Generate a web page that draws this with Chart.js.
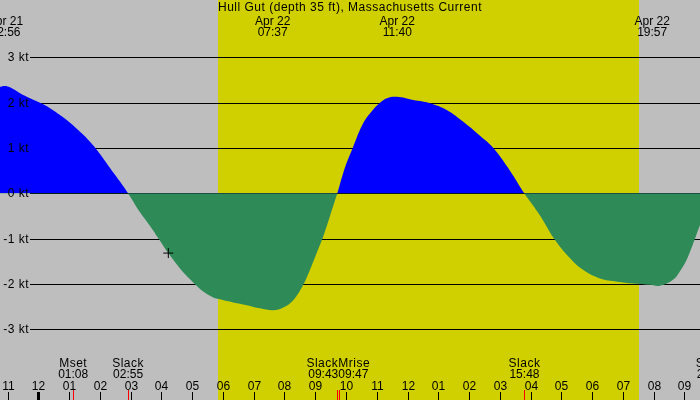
<!DOCTYPE html>
<html>
<head>
<meta charset="utf-8">
<script src="https://cdn.jsdelivr.net/npm/chart.js@4.4.1/dist/chart.umd.min.js"></script>
<style>
body{margin:0;background:#bebebe}
#wrap{width:700px;height:400px}
</style>
</head>
<body>
<div id="wrap"><canvas id="tideChart" width="700" height="400"></canvas></div>
<script>
var stationName = 'Hull Gut (depth 35 ft), Massachusetts Current';

// hours after Apr 22 00:00 and the current in knots
var hours = [-1.245, -1.082, -0.92, -0.595, -0.27, 0.055, 0.38, 0.705, 1.03, 1.355,
  1.68, 2.005, 2.33, 2.655, 2.915,
  3.305, 3.63, 3.9, 4.225, 4.605, 4.93, 5.362, 5.687, 5.905, 6.337,
  6.773, 7.205, 7.637, 7.962, 8.287, 8.612, 8.83, 9.048, 9.262, 9.48, 9.717,
  9.967, 10.218, 10.562, 10.887, 11.105, 11.333, 11.648, 12.187, 12.73, 13.273,
  13.812, 14.355, 14.787, 15.33, 15.795,
  16.305, 16.76, 17.183, 17.703, 18.255, 18.808, 19.328, 19.88, 20.205, 20.627,
  20.855, 21.082, 21.277, 21.505];
var knots = [2.35, 2.37, 2.34, 2.21, 2.1, 2.0, 1.88, 1.73, 1.56, 1.36,
  1.14, 0.87, 0.56, 0.26, 0,
  -0.42, -0.72, -0.99, -1.32, -1.66, -1.9, -2.17, -2.3, -2.34, -2.41,
  -2.47, -2.54, -2.58, -2.52, -2.36, -2.02, -1.69, -1.32, -0.95, -0.5, 0,
  0.57, 1.0, 1.55, 1.85, 2.0, 2.1, 2.13, 2.06, 1.99, 1.84,
  1.58, 1.27, 1.0, 0.5, 0,
  -0.49, -1.0, -1.36, -1.69, -1.88, -1.95, -1.99, -2.02, -2.04, -1.91,
  -1.72, -1.45, -1.12, -0.7];

var maxDays = ['Apr 21', 'Apr 22', 'Apr 22', 'Apr 22'];
var maxTimes = ['22:56', '07:37', '11:40', '19:57'];

var eventNames = ['Mset', 'Slack', 'Slack', 'Mrise', 'Slack', 'Slack'];
var eventTimes = ['01:08', '02:55', '09:43', '09:47', '15:48', '21:53'];

var hourTicks = [-1, 0, 1, 2, 3, 4, 5, 6, 7, 8, 9, 10, 11, 12, 13, 14, 15, 16, 17, 18, 19, 20, 21];
var hourLabels = ['11', '12', '01', '02', '03', '04', '05', '06', '07', '08', '09', '10',
  '11', '12', '01', '02', '03', '04', '05', '06', '07', '08', '09'];
var ktTicks = [3, 2, 1, 0, -1, -2, -3];

var daylight = [5.84, 19.52];   // sunrise, sunset
var nowHour = 4.225, nowKnots = -1.32;

var xMin = -1.245, xMax = 21.505;
var yMin = -4.563, yMax = 4.267;

var font = '12px "Liberation Sans", Arial, sans-serif';

var toHours = (t, day) => {
  let p = t.split(':');
  let h = +p[0] + p[1] / 60;
  return day === 'Apr 21' ? h - 24 : h;
};

var tideDecor = {
  id: 'tideDecor',
  beforeDatasetsDraw(chart) {
    let ctx = chart.ctx, x = chart.scales.x, y = chart.scales.y;
    let w = chart.width, h = chart.height;
    ctx.save();
    ctx.fillStyle = '#bebebe';
    ctx.fillRect(0, 0, w, h);
    let s0 = Math.round(x.getPixelForValue(daylight[0])), s1 = Math.round(x.getPixelForValue(daylight[1]));
    ctx.fillStyle = '#d0d000';
    ctx.fillRect(s0, 0, s1 - s0, h);
    ctx.strokeStyle = '#000';
    ctx.lineWidth = 1;
    ktTicks.forEach(v => {
      let py = Math.round(y.getPixelForValue(v)) + 0.5;
      ctx.beginPath();
      ctx.moveTo(30, py);
      ctx.lineTo(w, py);
      ctx.stroke();
    });
    ctx.restore();
  },
  afterDatasetsDraw(chart) {
    let ctx = chart.ctx, x = chart.scales.x, y = chart.scales.y;
    ctx.save();
    ctx.font = font;
    ctx.fillStyle = '#000';
    ctx.textBaseline = 'alphabetic';

    // knot labels
    ctx.letterSpacing = '0.5px';
    ctx.textAlign = 'right';
    ktTicks.forEach(v => {
      ctx.fillText(v + ' kt', 29, Math.round(y.getPixelForValue(v)) + 4);
    });

    // title and max current times
    ctx.textAlign = 'center';
    ctx.fillText(stationName, 350, 11);
    ctx.letterSpacing = '0px';
    maxTimes.forEach((t, i) => {
      let px = x.getPixelForValue(toHours(t, maxDays[i]));
      ctx.fillText(maxDays[i], px, 25);
      ctx.fillText(t, px, 36);
    });

    // hour ticks and labels
    hourTicks.forEach((hr, i) => {
      let px = Math.round(x.getPixelForValue(hr));
      ctx.textAlign = 'center';
      ctx.fillText(hourLabels[i], px + 0.5, 390);
      if (hr % 24 === 0) ctx.fillRect(px - 1, 392, 3, 8);
      else ctx.fillRect(px, 392, 1, 8);
    });

    // bottom events, nudged apart when they overlap
    ctx.letterSpacing = '0.5px';
    let ev = eventNames.map((n, i) => {
      let px = x.getPixelForValue(toHours(eventTimes[i]));
      let wd = Math.max(ctx.measureText(n).width, ctx.measureText(eventTimes[i]).width);
      return { n: n, t: eventTimes[i], px: px, wd: wd, align: 'center' };
    });
    for (let i = 0; i < ev.length - 1; i++) {
      if (ev[i].px + ev[i].wd / 2 > ev[i + 1].px - ev[i + 1].wd / 2) {
        ev[i].align = 'right';
        ev[i + 1].align = 'left';
      }
    }
    ev.forEach(e => {
      ctx.fillStyle = '#ff0000';
      ctx.fillRect(Math.round(e.px), 390, 1, 10);
      ctx.fillStyle = '#000';
      ctx.textAlign = e.align;
      let tx = e.align === 'right' ? e.px + 1 : e.align === 'left' ? e.px - 1 : e.px;
      ctx.letterSpacing = '0.5px';
      ctx.fillText(e.n, tx, 367);
      ctx.letterSpacing = '0px';
      ctx.fillText(e.t, tx, 378);
    });
    ctx.restore();
  }
};

var ctxT = document.getElementById('tideChart').getContext('2d');
var tideChart = new Chart(ctxT, {
  type: 'line',
  data: {
    datasets: [{
      data: hours.map((h, i) => ({ x: h, y: knots[i] })),
      fill: { target: 'origin', above: '#0000ff', below: '#2e8b57' },
      backgroundColor: '#0000ff',
      borderColor: 'rgba(0,0,0,0)',
      borderWidth: 0,
      pointRadius: 0,
      tension: 0.4,
      order: 2
    }, {
      data: [{ x: nowHour, y: nowKnots }],
      showLine: false,
      pointStyle: 'cross',
      pointRadius: 5,
      borderColor: '#000',
      backgroundColor: '#000',
      borderWidth: 1,
      order: 1
    }]
  },
  plugins: [tideDecor],
  options: {
    responsive: false,
    animation: false,
    events: [],
    layout: { padding: 0, autoPadding: false },
    scales: {
      x: { type: 'linear', min: xMin, max: xMax, display: false },
      y: { min: yMin, max: yMax, display: false }
    },
    plugins: {
      legend: { display: false },
      tooltip: { enabled: false }
    }
  }
});
</script>
</body>
</html>
